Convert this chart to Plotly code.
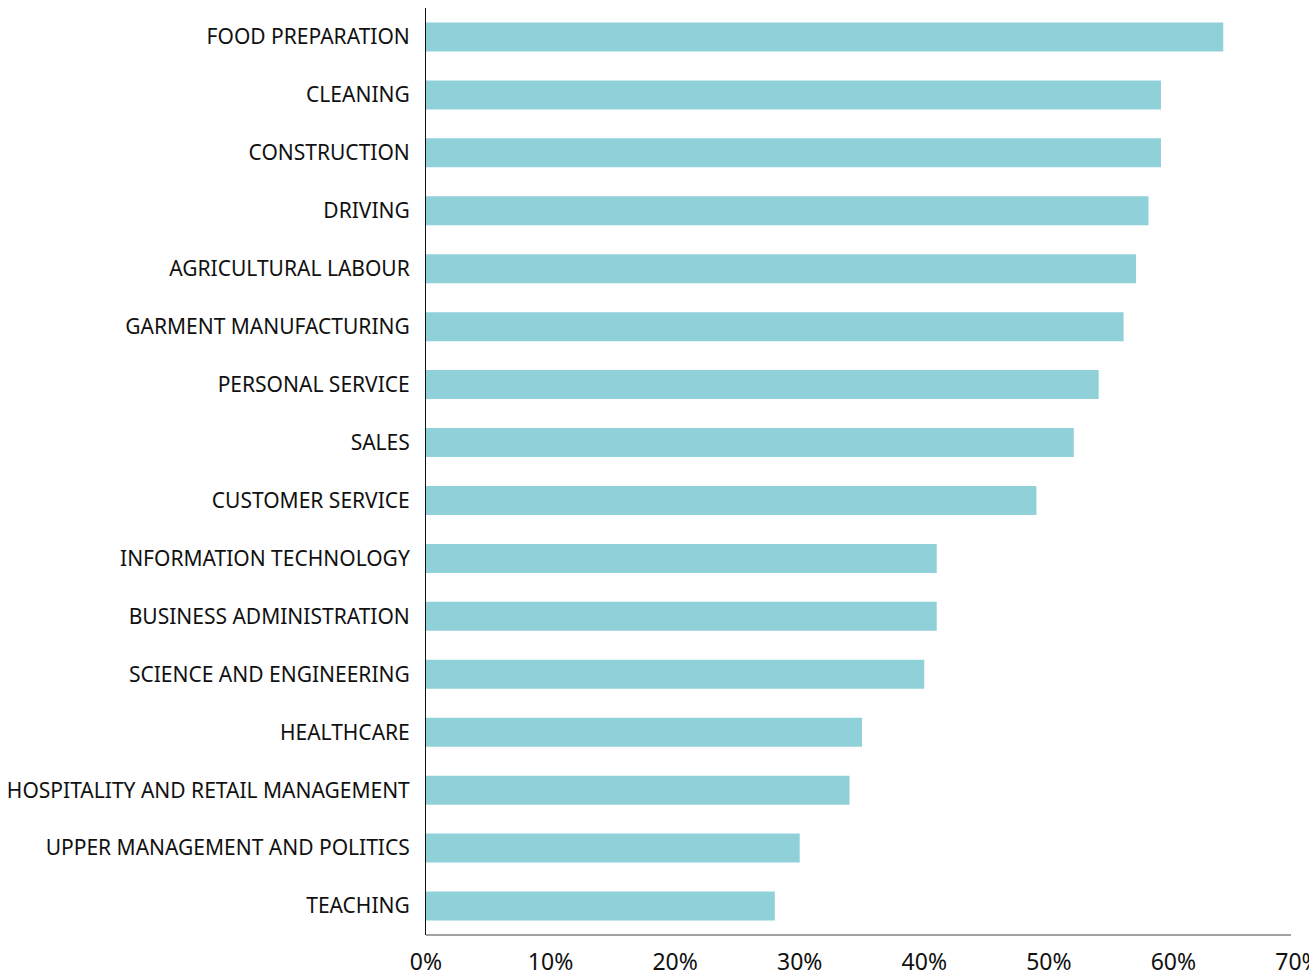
import plotly.graph_objects as go

categories = [
    "FOOD PREPARATION", "CLEANING", "CONSTRUCTION", "DRIVING",
    "AGRICULTURAL LABOUR", "GARMENT MANUFACTURING", "PERSONAL SERVICE",
    "SALES", "CUSTOMER SERVICE", "INFORMATION TECHNOLOGY",
    "BUSINESS ADMINISTRATION", "SCIENCE AND ENGINEERING", "HEALTHCARE",
    "HOSPITALITY AND RETAIL MANAGEMENT", "UPPER MANAGEMENT AND POLITICS",
    "TEACHING",
]
values = [64, 59, 59, 58, 57, 56, 54, 52, 49, 41, 41, 40, 35, 34, 30, 28]
tick_vals = [0, 10, 20, 30, 40, 50, 60, 70]
tick_text = ["0%", "10%", "20%", "30%", "40%", "50%", "60%", "70%"]

fig = go.Figure(go.Bar(
    x=values, y=categories, orientation="h",
    marker=dict(color="#90D1D9", line=dict(width=0)),
    hoverinfo="x+y",
))

font_family = "Noto Sans, DejaVu Sans, sans-serif"
fig.update_layout(
    width=1309, height=977,
    margin=dict(l=426, r=11, t=8, b=42),
    paper_bgcolor="white", plot_bgcolor="white",
    bargap=0.5,
    showlegend=False,
    font=dict(family=font_family, size=21, color="#111111"),
    shapes=[dict(
        type="line", xref="paper", yref="paper",
        x0=0, x1=(1291 - 426) / (1298 - 426), y0=0, y1=0,
        line=dict(color="#444444", width=1),
    )],
)
fig.update_yaxes(
    categoryorder="array", categoryarray=categories[::-1],
    range=[-0.5, len(categories) - 0.5],
    showline=True, linecolor="#111111", linewidth=1,
    showgrid=False, ticks="", ticklabelstandoff=11,
    automargin=False,
    tickfont=dict(size=21, color="#111111"),
)
fig.update_xaxes(
    range=[0, 70], tickvals=tick_vals, ticktext=tick_text,
    showline=False,
    showgrid=False, zeroline=False, ticks="",
    ticklabelstandoff=11, ticklabeloverflow="allow",
    automargin=False,
    tickfont=dict(size=23, color="#111111"),
)
fig.write_html("out.html")
